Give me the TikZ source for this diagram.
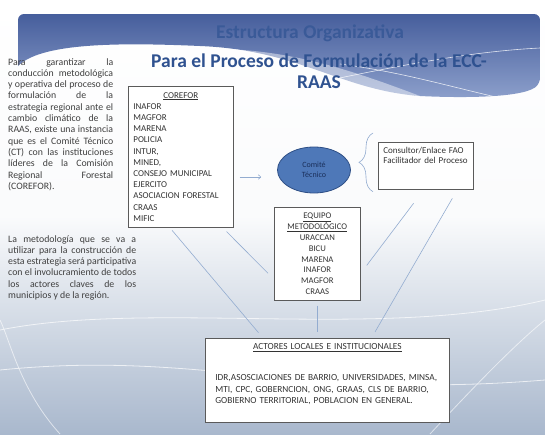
\documentclass[tikz,border=0pt]{standalone}
\usepackage{fontspec}
\setmainfont{Carlito}
\usetikzlibrary{positioning, calc, shapes.geometric, arrows.meta, shadows, decorations.pathreplacing}

\definecolor{bannertop}{HTML}{465E9C}
\definecolor{bannerlow}{HTML}{8C9FCB}
\definecolor{slidelow}{HTML}{A9B8CD}
\definecolor{titlepale}{HTML}{3A5A98}
\definecolor{titleblue}{HTML}{2F5290}
\definecolor{bodygrey}{HTML}{3F3F3F}
\definecolor{boxgrey}{HTML}{5A5A5A}
\definecolor{linkblue}{HTML}{93ACD0}
\definecolor{ellipsefill}{HTML}{4E78B8}
\definecolor{ellipseedge}{HTML}{2E4F86}
\definecolor{comitetext}{HTML}{1A2F5A}

\begin{document}
\begin{tikzpicture}[x=1pt, y=-1pt,
      every node/.style={inner sep=3pt},
      para/.style={anchor=north west, inner sep=0pt, align=justify, text=bodygrey,
                   font=\fontsize{9.8}{11.3}\selectfont,
                   execute at begin node=\hyphenpenalty10000\relax},
      heading/.style={align=center, font=\fontsize{19.5}{21}\selectfont\bfseries},
      box/.style={draw=boxgrey, fill=white, line width=0.7pt, anchor=north west,
                  inner xsep=5pt, inner ysep=4pt, text=black!80,
                  font=\fontsize{9}{11.2}\selectfont,
                  drop shadow={shadow xshift=1pt, shadow yshift=-1pt, opacity=0.25}},
      link/.style={draw=linkblue, line width=0.6pt},
      arrow/.style={link, -{To[length=3pt, width=5pt]}},
  ]
    \useasboundingbox (0,0) rectangle (545,434);

    %% --- slide background ---
    \shade[top color=white, bottom color=slidelow, middle color=white!94!slidelow]
      (0,0) rectangle (545,434);
    \shade[top color=bannertop, bottom color=bannerlow, rounded corners=6pt]
      (18,66) -- (18,14) -- (540,14) -- (540,84)
      [sharp corners] .. controls (520,98) and (460,98) .. (420,96)
      .. controls (340,90) and (300,50) .. (200,46)
      .. controls (110,42) and (40,44) .. (18,66);
    \fill[white, opacity=0.45]
      (150,52) .. controls (260,40) and (330,62) .. (420,96)
      .. controls (330,92) and (250,66) .. (150,52);
    \draw[white, opacity=0.8, line width=0.6pt]
      (300,86) .. controls (380,70) and (460,52) .. (540,48);
    \draw[white, opacity=0.8, line width=0.6pt]
      (340,64) .. controls (400,72) and (440,84) .. (500,98);
    \draw[white, opacity=0.7, line width=0.8pt]
      (0,330) .. controls (150,300) and (380,340) .. (545,300);
    \draw[white, opacity=0.7, line width=0.8pt]
      (0,370) .. controls (200,350) and (300,400) .. (545,380);
    \draw[white, opacity=0.6, line width=0.8pt]
      (60,434) .. controls (20,390) and (10,340) .. (0,320);
    \draw[white, opacity=0.6, line width=0.8pt]
      (430,434) .. controls (480,380) and (520,340) .. (545,320);

    %% --- titles ---
    \node[heading, text=titlepale] (title) at (310,33) {Estructura Organizativa};
    \node[heading, text=titleblue] (subtitle) at (319,71)
      {Para el Proceso de Formulación de la ECC-\\RAAS};

    %% --- side texts ---
    \node[para, text width=105pt] (intro) at (8,58)
      {Para garantizar la\linebreak conducción metodológica\linebreak y operativa del
       proceso de\linebreak formulación de la\linebreak estrategia regional ante
       el\linebreak cambio climático de la\linebreak RAAS, existe una
       instancia\linebreak que es el Comité Técnico\linebreak (CT) con las
       instituciones\linebreak líderes de la Comisión\linebreak Regional
       Forestal\linebreak (COREFOR).};
    \node[para, text width=128pt] (method) at (8,235)
      {La metodología que se va a\linebreak utilizar para la construcción
       de\linebreak esta estrategia será participativa\linebreak con el
       involucramiento de todos\linebreak los actores claves de los\linebreak
       municipios y de la región.};

    %% --- boxes ---
    \node[box, text width=95pt, minimum height=141pt, align=left] (corefor) at (128,86)
      {\makebox[95pt]{\underline{COREFOR}}\\ INAFOR\\ MAGFOR\\ MARENA\\ POLICIA\\
       INTUR,\\ MINED,\\ CONSEJO MUNICIPAL\\ EJERCITO\\ ASOCIACION FORESTAL\\
       CRAAS\\ MIFIC};
    \node[ellipse, draw=ellipseedge, fill=ellipsefill, line width=0.8pt,
          minimum width=73pt, minimum height=46pt, align=center, text=comitetext,
          font=\fontsize{8}{10}\selectfont] (comite) at (314,170) {Comité\\Técnico};
    \node[box, text width=85pt, minimum height=47pt, align=left,
          font=\fontsize{9}{10.5}\selectfont] (consultor) at (378,142)
      {Consultor/Enlace FAO\\ Facilitador del Proceso\rule[-21pt]{0pt}{0pt}};
    \node[box, text width=76pt, minimum height=93pt, align=center,
          font=\fontsize{8.7}{10.9}\selectfont] (equipo) at (274,207)
      {\underline{EQUIPO}\\ \underline{METODOLÓGICO}\\ URACCAN\\ BICU\\ MARENA\\
       INAFOR\\ MAGFOR\\ CRAAS};
    \node[box, text width=224pt, inner xsep=10pt, minimum height=84pt, align=left,
          font=\fontsize{9.3}{11.5}\selectfont] (actores) at (205,338)
      {\makebox[224pt]{\underline{ACTORES LOCALES E INSTITUCIONALES}}\\[19.5pt]
       IDR,ASOSCIACIONES DE BARRIO, UNIVERSIDADES, MINSA,\\
       MTI, CPC, GOBERNCION, ONG, GRAAS, CLS DE BARRIO,\\
       GOBIERNO TERRITORIAL, POBLACION EN GENERAL.\rule[-13pt]{0pt}{0pt}};

    %% --- brace towards the consultant ---
    \coordinate (bracelow)  at ($(consultor.south west)+(-5,2)$);
    \coordinate (bracehigh) at ($(consultor.north west)+(-5,-9)$);
    \draw[link, decorate, decoration={brace, amplitude=14pt}] (bracelow) -- (bracehigh);

    %% --- connectors ---
    \draw[arrow] ([xshift=6pt]corefor.east |- 0,177) -- ([xshift=-16pt]comite.west |- 0,177);
    \draw[link, shorten <=3.5pt, shorten >=7pt]
      ($(corefor.south)+(-11,0)$) -- ($(actores.north west)+(58,0)$);
    \draw[link, shorten <=5.5pt, shorten >=8.5pt]
      ($(corefor.south east)+(-11,0)$) -- ($(equipo.west)+(0,25.5)$);
    \draw[link, shorten <=17pt, shorten >=10pt]
      ($(consultor.south)+(-2,0)$) -- ($(equipo.east)+(0,19.5)$);
    \draw[link, shorten <=10pt, shorten >=7pt]
      ($(consultor.south)+(31.5,0)$) -- ($(actores.north west)+(166.5,0)$);
    \draw[link, shorten <=5pt, shorten >=6pt]
      (equipo.south) -- (equipo.south |- actores.north);
  \end{tikzpicture}
\end{document}
